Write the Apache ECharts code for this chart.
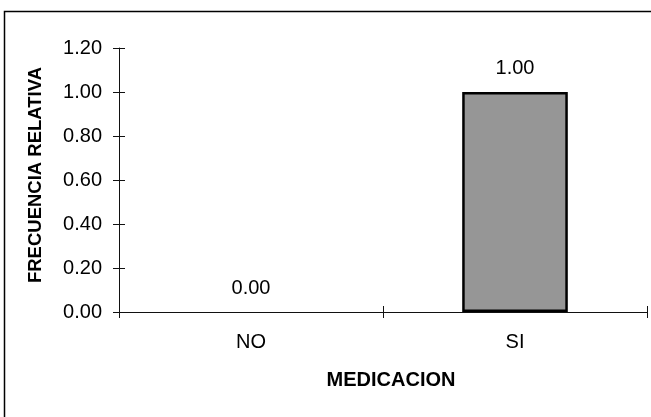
<!DOCTYPE html>
<html>
<head>
<meta charset="utf-8">
<script src="https://cdn.jsdelivr.net/npm/echarts@6/dist/echarts.min.js"></script>
<style>
html,body{margin:0;padding:0;background:#fff;}
#c{width:651px;height:417px;}
</style>
</head>
<body>
<div id="c"></div>
<script>
const categories = ["NO", "SI"];
const values = [0.00, 1.00];
const yTickMin = 0, yTickMax = 1.2, yTickStep = 0.2;
const xTitle = "MEDICACION";
const yTitle = "FRECUENCIA RELATIVA";

const FONT = '"Liberation Sans", Arial, sans-serif';
const chart = echarts.init(document.getElementById('c'), null, {renderer: 'canvas'});

const seriesData = values.map(v => ({
  value: v,
  itemStyle: v === 0 ? {borderWidth: 0} : {}
}));

chart.setOption({
  animation: false,
  backgroundColor: '#ffffff',
  graphic: [{
    type: 'rect',
    shape: {x: 4.5, y: 11.5, width: 700, height: 500},
    style: {fill: 'none', stroke: '#000', lineWidth: 1.5},
    silent: true, z: -1
  }],
  grid: {left: 119, top: 48, width: 528, height: 264, containLabel: false},
  xAxis: [{
    type: 'category',
    data: categories,
    boundaryGap: true,
    axisLine: {lineStyle: {color: '#111', width: 1}},
    axisTick: {show: true, length: 6, lineStyle: {color: '#111'}},
    axisLabel: {color: '#000', fontFamily: FONT, fontSize: 20, margin: 20},
    name: xTitle,
    nameLocation: 'middle',
    nameGap: 58,
    nameTextStyle: {color: '#000', fontFamily: FONT, fontSize: 20, fontWeight: 'bold', padding: [0, 0, 0, 16]},
    splitLine: {show: false}
  }, {
    type: 'category',
    data: categories,
    position: 'bottom',
    boundaryGap: true,
    axisLine: {show: false},
    axisTick: {show: true, inside: true, length: 6, lineStyle: {color: '#111'}},
    axisLabel: {show: false},
    splitLine: {show: false}
  }],
  yAxis: [{
    type: 'value',
    min: yTickMin, max: yTickMax, interval: yTickStep,
    axisLine: {show: true, lineStyle: {color: '#111', width: 1}},
    axisTick: {show: true, length: 6, lineStyle: {color: '#111'}},
    axisLabel: {color: '#000', fontFamily: FONT, fontSize: 20, margin: 17,
      formatter: v => v.toFixed(2)},
    splitLine: {show: false},
    name: yTitle,
    nameLocation: 'middle',
    nameGap: 74,
    nameRotate: 90,
    nameTextStyle: {color: '#000', fontFamily: FONT, fontSize: 18.5, fontWeight: 'bold', padding: [0, 0, 0, 10]}
  }, {
    type: 'value',
    position: 'left',
    min: yTickMin, max: yTickMax, interval: yTickStep,
    axisLine: {show: false},
    axisTick: {show: true, inside: true, length: 6, lineStyle: {color: '#111'}},
    axisLabel: {show: false},
    splitLine: {show: false}
  }],
  series: [{
    type: 'bar',
    xAxisIndex: 0,
    yAxisIndex: 0,
    data: seriesData,
    barWidth: '40%',
    itemStyle: {color: '#969696', borderColor: '#000', borderWidth: 2.5},
    label: {show: true, position: 'top', distance: 14, color: '#000',
      fontFamily: FONT, fontSize: 20, formatter: p => p.value.toFixed(2)}
  }]
});
</script>
</body>
</html>
